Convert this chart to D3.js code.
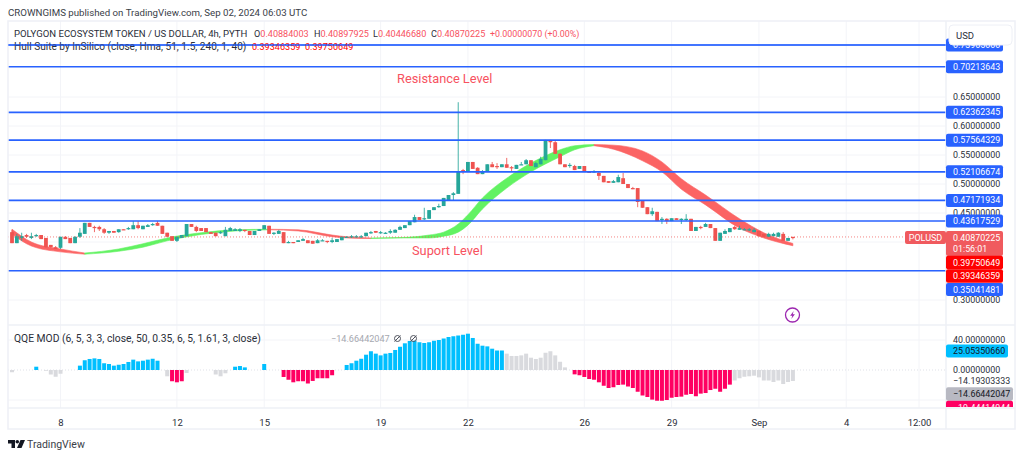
<!DOCTYPE html>
<html>
<head>
<meta charset="utf-8">
<script src="https://cdn.jsdelivr.net/npm/d3@7"></script>
<style>
    html, body { margin: 0; padding: 0; background: #fff; overflow: hidden; }
    svg { display: block; }
    text { font-family: Roboto, "Noto Sans", sans-serif; }
</style>
</head>
<body>
<svg width="1024" height="458"></svg>
<script>
const opens = [
    .417,.398,.407,.412,.407,.410,.412,.407,.395,.391,
    .390,.409,.407,.398,.409,.414,.433,.426,.426,.422,
    .416,.419,.417,.422,.422,.422,.429,.422,.426,.429,
    .433,.428,.416,.410,.402,.407,.410,.431,.426,.424,
    .424,.417,.416,.416,.410,.419,.419,.419,.421,.419,
    .412,.419,.422,.428,.414,.414,.417,.398,.400,.400,
    .402,.403,.402,.398,.402,.402,.400,.400,.403,.407,
    .409,.409,.409,.410,.416,.419,.416,.414,.416,.416,
    .421,.424,.429,.434,.443,.440,.440,.455,.460,.462,
    .472,.481,.483,.524,.521,.538,.528,.517,.521,.534,
    .531,.529,.534,.529,.526,.533,.534,.541,.529,.534,
    .541,.576,.572,.552,.534,.531,.531,.526,.531,.522,
    .521,.519,.514,.505,.502,.503,.510,.500,.493,.493,
    .471,.460,.448,.452,.438,.440,.436,.441,.438,.438,
    .440,.419,.426,.426,.431,.424,.402,.414,.417,.426,
    .421,.421,.421,.417,.419,.414,.409,.410,.409,.414,
    .402,.4088
];
const highs = [
    .421,.414,.416,.414,.416,.414,.412,.407,.395,.393,
    .409,.410,.407,.410,.424,.433,.433,.428,.428,.424,
    .419,.419,.422,.422,.426,.436,.436,.428,.431,.433,
    .436,.428,.416,.410,.409,.412,.431,.431,.428,.424,
    .424,.417,.416,.419,.426,.426,.424,.424,.421,.419,
    .419,.422,.429,.428,.417,.421,.417,.402,.400,.403,
    .407,.403,.402,.405,.405,.402,.407,.405,.409,.410,
    .412,.412,.412,.416,.419,.419,.419,.417,.422,.422,
    .428,.429,.436,.447,.443,.459,.455,.460,.466,.476,
    .481,.486,.641,.526,.538,.538,.529,.524,.534,.538,
    .536,.534,.545,.531,.533,.538,.543,.541,.538,.547,
    .576,.576,.574,.553,.534,.536,.533,.531,.531,.522,
    .524,.521,.514,.505,.507,.516,.519,.500,.495,.493,
    .471,.460,.459,.452,.443,.441,.441,.441,.441,.448,
    .440,.426,.428,.433,.431,.424,.416,.422,.424,.428,
    .428,.424,.424,.424,.419,.414,.416,.416,.417,.417,
    .407,.4090
];
const lows = [
    .398,.398,.402,.407,.405,.409,.405,.390,.390,.388,
    .388,.405,.398,.398,.407,.414,.426,.417,.419,.414,
    .414,.416,.416,.421,.421,.422,.422,.422,.426,.428,
    .428,.414,.409,.402,.400,.407,.410,.426,.417,.419,
    .417,.414,.410,.414,.410,.419,.419,.417,.417,.412,
    .412,.419,.422,.414,.412,.414,.398,.398,.398,.400,
    .402,.398,.397,.398,.402,.398,.398,.400,.403,.407,
    .407,.407,.407,.410,.414,.416,.414,.414,.414,.416,
    .421,.424,.429,.434,.438,.438,.440,.455,.459,.462,
    .471,.472,.483,.517,.521,.526,.517,.517,.521,.529,
    .526,.529,.528,.522,.526,.533,.534,.531,.529,.534,
    .541,.562,.552,.534,.529,.528,.524,.526,.521,.519,
    .519,.507,.503,.502,.502,.503,.500,.493,.491,.460,
    .459,.448,.445,.436,.431,.431,.436,.438,.431,.436,
    .419,.419,.422,.426,.424,.402,.402,.414,.417,.421,
    .421,.421,.419,.417,.410,.409,.409,.410,.409,.402,
    .402,.4045
];
const closes = [
    .398,.410,.410,.409,.410,.412,.405,.391,.391,.388,
    .409,.405,.398,.409,.416,.433,.426,.424,.422,.416,
    .419,.416,.422,.421,.424,.429,.424,.428,.429,.431,
    .428,.414,.409,.402,.409,.412,.431,.426,.419,.419,
    .417,.414,.410,.417,.421,.424,.422,.422,.419,.412,
    .419,.422,.429,.414,.416,.419,.398,.400,.398,.403,
    .405,.398,.397,.403,.403,.400,.403,.405,.409,.409,
    .410,.410,.410,.416,.417,.416,.417,.416,.419,.421,
    .426,.429,.436,.443,.438,.441,.455,.460,.462,.476,
    .481,.484,.521,.521,.538,.526,.517,.522,.534,.529,
    .529,.534,.528,.528,.533,.534,.541,.531,.536,.543,
    .576,.572,.552,.534,.529,.533,.524,.531,.521,.519,
    .522,.514,.503,.502,.505,.512,.500,.493,.491,.469,
    .459,.448,.453,.436,.440,.436,.441,.438,.440,.440,
    .419,.426,.424,.431,.424,.402,.416,.419,.424,.422,
    .424,.422,.422,.421,.410,.409,.414,.414,.416,.402,
    .407,.4087
];

// hull band, read every few bars
const hullBars  = [0,4,10,15,22,27,32,39,46,53,59,66,69,74,81,86,89,92,94,97,102,107,113,116,120,124,130,134,138,143,150,155,161];
const hullUpper = [.422,.400,.388,.381,.388,.397,.407,.416,.421,.422,.421,.412,.409,.407,.408,.412,.417,.431,.447,.476,.510,.536,.559,.566,.568,.567,.557,.538,.509,.481,.440,.416,.3975];
const hullLower = [.414,.393,.383,.379,.384,.391,.402,.413,.419,.421,.419,.409,.407,.406,.407,.407,.410,.417,.429,.457,.493,.521,.547,.559,.566,.560,.540,.521,.491,.464,.424,.407,.3935];
const hullTurns = [0,15,53,74,120,161];

const qqeValues = [
    -3,0,0,0,0,4.4,0,-1,-6,-9,
    -5,0,0,0,5.8,13,14.7,15.5,14.7,9,
    8,5.8,7,8,10.7,13.8,11.5,12.4,13.8,15,
    12.4,0,-8.4,-15,-16.4,-15,-4,0,0,0,
    0,0,-6,-8.4,-4.4,0,4.4,5.3,3.5,0,
    0,0,8,0,0,0,-9.3,-13,-16.4,-15,
    -15,-18,-14.6,-11,-11,-11,-7,0,0,6.7,
    9,12.4,15,20.4,25,21.8,19.5,21.8,22.7,26.7,
    31,35.6,38.7,39,37,36,37,39,40,42,
    44,45,46,47,48.4,42.7,35,32.4,31.5,28.4,
    26,26,21.8,18.7,18.7,19.5,21.8,16.4,14.7,16.4,
    23,25,19.5,11,3.5,0,-5.8,-7,-9.3,-12,
    -13,-16.4,-21,-24,-23,-20,-19.5,-22,-24,-29,
    -34,-36,-39.5,-41,-41,-40,-37,-36,-35.5,-33,
    -32,-35,-31.5,-30.7,-26.7,-25,-29,-25,-19.5,-14,
    -11,-9,-8.4,-7.6,-9.8,-14,-14,-16,-14,-18.7,
    -16,-14.66
];
const qqeBlueRuns = [[5,5],[14,30],[46,48],[52,52],[69,101]];
const qqeRedRuns  = [[33,35],[56,66],[116,148]];

const levels = [0.73965,0.70213643,0.62362345,0.57564329,0.52106674,0.47171934,0.43617529,0.35041481];
const priceGrid = [0.65,0.60,0.55,0.50,0.45,0.40,0.35,0.30];
const priceTicks = [0.65,0.60,0.55,0.50,0.45,0.30];
const qqeTicks = [40,0,-14.19303333];
const timeBars = [10,34,52,76,94,118,136,154,172,187];
const timeLabels = ["8","12","15","19","22","26","29","Sep","4","12:00"];
const lastPrice = 0.40870225;

const COL_UP = "#26a69a", COL_DOWN = "#ef5350", COL_LEVEL = "#2962ff";
const COL_GRID = "#f3f4f8", COL_BORDER = "#eef0f6", COL_TEXT = "#2a2e39";
const AXIS_FONT = 8.9;

let svg = d3.select("svg");
let frame = {left: 8, right: 1015, top: 21, mid: 325, plot: 946, xaxis: 408, bottom: 429};

let x = d3.scaleLinear().domain([0, 187]).range([12, 919]);
let y = d3.scaleLinear().domain([0.30, 0.65]).range([300, 97]);
let yq = d3.scaleLinear().domain([-40, 40]).range([400, 340]);

svg.append("defs").append("clipPath").attr("id", "mainclip").append("rect")
    .attr("x", frame.left).attr("y", frame.top)
    .attr("width", frame.plot - frame.left).attr("height", frame.mid - frame.top);
svg.select("defs").append("clipPath").attr("id", "qqeclip").append("rect")
    .attr("x", frame.plot).attr("y", frame.mid)
    .attr("width", frame.right - frame.plot).attr("height", frame.xaxis - frame.mid - 1);

// gridlines
let grid = svg.append("g");
grid.selectAll(".v").data(timeBars).join("line")
    .attr("x1", d => x(d)).attr("x2", d => x(d))
    .attr("y1", frame.top).attr("y2", frame.xaxis)
    .attr("stroke", COL_GRID);
grid.selectAll(".h").data(priceGrid).join("line")
    .attr("x1", frame.left).attr("x2", frame.plot)
    .attr("y1", d => y(d)).attr("y2", d => y(d))
    .attr("stroke", COL_GRID);
grid.selectAll(".q").data([40, -40]).join("line")
    .attr("x1", frame.left).attr("x2", frame.plot)
    .attr("y1", d => yq(d)).attr("y2", d => yq(d))
    .attr("stroke", COL_GRID);
grid.append("line")
    .attr("x1", frame.left).attr("x2", frame.plot)
    .attr("y1", yq(0)).attr("y2", yq(0))
    .attr("stroke", "#dfe1e8").attr("stroke-dasharray", "1 2");

// hull band
let main = svg.append("g").attr("clip-path", "url(#mainclip)");
let hull_area = d3.area()
    .x(d => x(hullBars[d]))
    .y0(d => y(hullLower[d]))
    .y1(d => y(hullUpper[d]))
    .curve(d3.curveMonotoneX);
for (let s = 0; s < hullTurns.length - 1; s++) {
    let idx = d3.range(hullBars.length).filter(i => hullBars[i] >= hullTurns[s] && hullBars[i] <= hullTurns[s + 1]);
    main.append("path")
        .datum(idx)
        .attr("d", hull_area)
        .attr("fill", s % 2 == 0 ? "#fb6464" : "#62f262")
        .attr("stroke", s % 2 == 0 ? "#fb6464" : "#62f262")
        .attr("stroke-width", 0.6);
}

// candles
let bars = d3.range(opens.length);
let is_up = i => closes[i] >= opens[i] && i != opens.length - 1;
main.selectAll(".wick").data(bars).join("line")
    .attr("x1", i => x(i)).attr("x2", i => x(i))
    .attr("y1", i => y(highs[i])).attr("y2", i => y(lows[i]))
    .attr("stroke", i => is_up(i) ? COL_UP : COL_DOWN)
    .attr("stroke-opacity", 0.85)
    .attr("stroke-width", 1);
main.selectAll(".body").data(bars).join("rect")
    .attr("x", i => x(i) - 1.9)
    .attr("width", 3.8)
    .attr("y", i => y(Math.max(opens[i], closes[i])))
    .attr("height", i => Math.max(1.2, Math.abs(y(opens[i]) - y(closes[i]))))
    .attr("fill", i => is_up(i) ? COL_UP : COL_DOWN);

// last price line
main.append("line")
    .attr("x1", frame.left).attr("x2", 905)
    .attr("y1", y(lastPrice)).attr("y2", y(lastPrice))
    .attr("stroke", "#ef5350").attr("stroke-opacity", 0.7)
    .attr("stroke-dasharray", "1 2");

// drawn levels
main.selectAll(".level").data(levels).join("line")
    .attr("x1", frame.left).attr("x2", frame.plot)
    .attr("y1", d => y(d)).attr("y2", d => y(d))
    .attr("stroke", COL_LEVEL).attr("stroke-width", 1.7);

// annotations
svg.append("text").attr("x", 397).attr("y", 82.5).text("Resistance Level")
    .attr("fill", "#f7525f").attr("font-size", 12.8);
svg.append("text").attr("x", 412).attr("y", 254.5).text("Suport Level")
    .attr("fill", "#f7525f").attr("font-size", 12.8);

// qqe bars
let in_runs = (runs, i) => runs.some(r => i >= r[0] && i <= r[1]);
svg.append("g").selectAll("rect").data(bars).join("rect")
    .attr("x", i => x(i) - 2)
    .attr("width", 4)
    .attr("y", i => Math.min(yq(0), yq(qqeValues[i])))
    .attr("height", i => Math.abs(yq(qqeValues[i]) - yq(0)))
    .attr("fill", i => in_runs(qqeBlueRuns, i) ? "#00bfff" : in_runs(qqeRedRuns, i) ? "#ff0062" : "#d9dade");

// frame
let border = svg.append("g").attr("stroke", COL_BORDER).attr("stroke-width", 1.5).attr("fill", "none");
border.append("rect").attr("x", frame.left).attr("y", frame.top)
    .attr("width", frame.right - frame.left).attr("height", frame.bottom - frame.top);
border.append("line").attr("x1", frame.plot).attr("x2", frame.plot).attr("y1", frame.top).attr("y2", frame.bottom);
border.append("line").attr("x1", frame.left).attr("x2", frame.right).attr("y1", frame.mid).attr("y2", frame.mid);
border.append("line").attr("x1", frame.left).attr("x2", frame.right).attr("y1", frame.xaxis).attr("y2", frame.xaxis);

// axes
function style_axis(g, size) {
    g.select(".domain").remove();
    g.selectAll(".tick line").remove();
    g.selectAll("text")
        .attr("fill", COL_TEXT)
        .attr("font-size", size)
        .style("font-family", "Roboto, sans-serif");
}
svg.append("g")
    .attr("transform", `translate(0,${frame.xaxis})`)
    .call(d3.axisBottom(x).tickValues(timeBars).tickFormat((d, i) => timeLabels[i]).tickSize(0).tickPadding(11))
    .call(g => style_axis(g, 9.5));
svg.append("g")
    .attr("transform", `translate(${frame.plot},0)`)
    .call(d3.axisRight(y).tickValues(priceTicks).tickFormat(d => d.toFixed(8)).tickSize(0).tickPadding(7))
    .call(g => style_axis(g, AXIS_FONT));
svg.append("g")
    .attr("transform", `translate(${frame.plot},0)`)
    .call(d3.axisRight(yq).tickValues(qqeTicks).tickFormat(d => d.toFixed(8).replace("-", "\u2212")).tickSize(0).tickPadding(7))
    .call(g => style_axis(g, AXIS_FONT));

// price labels on the right
function price_label(parent, cy, h, w, fill, txt, color) {
    parent.append("rect")
        .attr("x", frame.plot).attr("y", cy - h / 2)
        .attr("width", w).attr("height", h).attr("rx", 2)
        .attr("fill", fill);
    parent.append("text")
        .attr("x", frame.plot + 7).attr("y", cy).attr("dy", "0.34em")
        .attr("font-size", AXIS_FONT).attr("fill", color || "#fff")
        .text(txt);
}
let labels = svg.append("g");
for (let lv of levels) {
    if (lv == 0.35041481) continue;
    let txt = lv.toFixed(8);
    price_label(labels, y(lv), 13, 57, COL_LEVEL, txt);
}

// USD box sits over the top label
labels.append("rect").attr("x", 949).attr("y", 25).attr("width", 63).attr("height", 20).attr("rx", 4)
    .attr("fill", "#fff").attr("stroke", COL_BORDER);
labels.append("text").attr("x", 956).attr("y", 38.5).attr("font-size", 9.5).attr("fill", COL_TEXT).text("USD");

// last price box with countdown
labels.append("rect").attr("x", 905).attr("y", 231).attr("width", 41).attr("height", 13).attr("rx", 2).attr("fill", "#f05a5e");
labels.append("text").attr("x", 925.5).attr("y", 237.5).attr("dy", "0.34em").attr("text-anchor", "middle")
    .attr("font-size", 9).attr("fill", "#fff").text("POLUSD");
labels.append("rect").attr("x", frame.plot).attr("y", 231).attr("width", 57).attr("height", 25).attr("rx", 2).attr("fill", "#f05a5e");
labels.append("text").attr("x", 953).attr("y", 238).attr("dy", "0.34em").attr("font-size", AXIS_FONT).attr("fill", "#fff").text("0.40870225");
labels.append("text").attr("x", 953).attr("y", 249).attr("dy", "0.34em").attr("font-size", AXIS_FONT).attr("fill", "#fff").text("01:56:01");
price_label(labels, 262.5, 13.5, 57, "#ff0000", "0.39750649");
price_label(labels, 276, 13.5, 57, "#ff0000", "0.39346359");
price_label(labels, 289.5, 13, 57, COL_LEVEL, "0.35041481");

// qqe labels, the last one is cut off by the time axis
price_label(labels, 351, 13, 62, "#00bfff", "25.05350660", "#131722");
let qqe_labels = labels.append("g").attr("clip-path", "url(#qqeclip)");
price_label(qqe_labels, 394, 13.5, 67, "#b8b9c2", "\u221214.66442047", "#131722");
price_label(qqe_labels, 407.5, 13.5, 67, "#ff0062", "\u221219.44414944");

// header texts
svg.append("text").attr("x", 8).attr("y", 15.5).attr("font-size", 9.7).attr("fill", "#3a3e48")
    .text("CROWNGIMS published on TradingView.com, Sep 02, 2024 06:03 UTC");
let legend = svg.append("g").attr("font-size", 9.1);
legend.append("text").attr("x", 14).attr("y", 36.5).attr("fill", COL_TEXT).attr("font-size", 9.55).text("POLYGON ECOSYSTEM TOKEN / US DOLLAR, 4h, PYTH");
let ohlc = [[254, "O", "0.40884003"], [314, "H", "0.40897925"], [373, "L", "0.40446680"], [431, "C", "0.40870225"]];
for (let o of ohlc) {
    let t = legend.append("text").attr("x", o[0]).attr("y", 36.5).attr("fill", COL_TEXT);
    t.append("tspan").text(o[1]);
    t.append("tspan").attr("fill", "#f7525f").text(o[2]);
}
legend.append("text").attr("x", 490).attr("y", 36.5).attr("fill", "#f7525f").attr("font-size", 8.9).text("+0.00000070 (+0.00%)");
legend.append("text").attr("x", 14).attr("y", 50).attr("fill", COL_TEXT).attr("font-size", 10.1).text("Hull Suite by InSilico (close, Hma, 51, 1.5, 240, 1, 40)");
legend.append("text").attr("x", 252).attr("y", 50).attr("fill", "#ff0000").text("0.39346359");
legend.append("text").attr("x", 305).attr("y", 50).attr("fill", "#ff0000").text("0.39750649");
// the top level crosses the second legend line
svg.append("line").attr("x1", frame.left).attr("x2", frame.plot).attr("y1", y(levels[0])).attr("y2", y(levels[0]))
    .attr("stroke", COL_LEVEL).attr("stroke-width", 1.2);

let qqe_legend = svg.append("g").attr("font-size", 9.1);
qqe_legend.append("text").attr("x", 14).attr("y", 341.5).attr("fill", COL_TEXT).attr("font-size", 10.3).text("QQE MOD (6, 5, 3, 3, close, 50, 0.35, 6, 5, 1.61, 3, close)");
qqe_legend.append("text").attr("x", 331).attr("y", 341.5).attr("fill", "#a6a8b0").text("\u221214.66442047");
for (let cx of [397.5, 413.5]) {
    qqe_legend.append("circle").attr("cx", cx).attr("cy", 338.5).attr("r", 3).attr("fill", "none").attr("stroke", "#50535e");
    qqe_legend.append("line").attr("x1", cx - 3).attr("x2", cx + 3).attr("y1", 341.5).attr("y2", 335.5).attr("stroke", "#50535e");
}

// bolt icon
let bolt = svg.append("g").attr("transform", "translate(792.5,315)");
bolt.append("circle").attr("r", 7).attr("fill", "#fff").attr("stroke", "#9c27b0").attr("stroke-width", 1.3);
bolt.append("path").attr("d", "M1.2,-4 L-2.4,0.8 L-0.2,0.8 L-1.2,4 L2.4,-0.8 L0.2,-0.8 Z").attr("fill", "#9c27b0");

// TradingView logo
let logo = svg.append("g").attr("transform", "translate(8,440)").attr("fill", "#131722");
logo.append("path").attr("d", "M0,0 H7 V8 H3.5 V3.5 H0 Z");
logo.append("circle").attr("cx", 9.3).attr("cy", 1.8).attr("r", 1.8);
logo.append("path").attr("d", "M12.5,0 H17 L13.5,8 H9 Z");
svg.append("text").attr("x", 27).attr("y", 448).attr("font-size", 10.5).attr("fill", "#3a3e48").text("TradingView");
</script>
</body>
</html>
